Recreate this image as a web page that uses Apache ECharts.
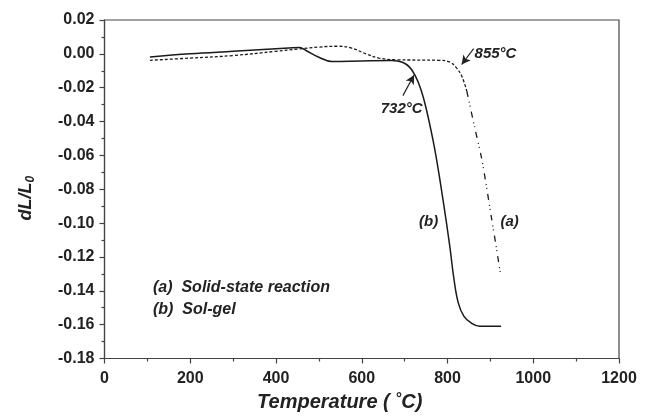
<!DOCTYPE html>
<html>
<head>
<meta charset="utf-8">
<script src="https://cdn.jsdelivr.net/npm/echarts@6/dist/echarts.min.js"></script>
<style>
  html, body { margin: 0; padding: 0; background: #fff; }
  #chart { width: 653px; height: 420px; }
</style>
</head>
<body>
<div id="chart"></div>
<script>
// x ticks / y ticks
var xTicks = [0, 200, 400, 600, 800, 1000, 1200];
var yTicks = [-0.18, 0.02, 0.02]; // min, max, interval

// (b) Sol-gel, solid line
var solGel = [
    [106, -0.0019], [200, 0.0], [300, 0.0015], [400, 0.003], [455, 0.0038],
    [470, 0.002], [500, -0.002], [530, -0.0045], [600, -0.0042], [670, -0.004],
    [695, -0.005], [712, -0.008], [725, -0.013], [738, -0.021], [750, -0.032],
    [770, -0.056], [790, -0.087], [805, -0.113], [815, -0.133], [825, -0.147],
    [838, -0.155], [855, -0.159], [875, -0.161], [925, -0.161]
];

// (a) Solid-state reaction, dashed line (upper part)
var solidStateTop = [
    [106, -0.0038], [200, -0.0025], [300, -0.001], [400, 0.0015], [450, 0.0028],
    [500, 0.004], [545, 0.0045], [575, 0.0035], [610, 0.0], [640, -0.0025],
    [680, -0.0035], [780, -0.0038], [805, -0.0048], [820, -0.008], [833, -0.013],
    [845, -0.022]
];
// (a) steep part, dash-dot
var solidStateLow = [
    [845, -0.022], [863, -0.043], [879, -0.061], [890, -0.077], [902, -0.096],
    [913, -0.113], [924, -0.131]
];

// annotation texts and arrows, in data coordinates
var notes = [
    { name: '732°C', coord: [693, -0.0323] },
    { name: '855°C', coord: [912, 0.0002] },
    { name: '(b)', coord: [756, -0.0995] },
    { name: '(a)', coord: [945, -0.099] }
];
var arrows = [
    [[696, -0.0247], [722, -0.0125]],
    [[861, 0.0031], [833, -0.0063]]
];
var legendLines = ['(a)  Solid-state reaction', '(b)  Sol-gel'];

var FONT = '"Liberation Sans", Arial, sans-serif';
var INK = '#222';

var chart = echarts.init(document.getElementById('chart'));

var option = {
    backgroundColor: '#fff',
    animation: false,
    grid: {
        left: 104.5, right: 34, top: 20, bottom: 61.5,
        show: true, borderColor: '#444', borderWidth: 1.2
    },
    xAxis: {
        type: 'value',
        min: xTicks[0], max: xTicks[xTicks.length - 1], interval: 200,
        name: '{t|Temperature ( }{s|°}{t|C)}',
        nameLocation: 'middle', nameGap: 29,
        nameTextStyle: {
            padding: [0, 44, 0, 0],
            rich: {
                t: { fontFamily: FONT, fontSize: 20, fontWeight: 'bold', fontStyle: 'italic', color: INK },
                s: { fontFamily: FONT, fontSize: 15, fontWeight: 'bold', fontStyle: 'italic', color: INK, padding: [0, 0, 7, 0] }
            }
        },
        axisLine: { onZero: false, lineStyle: { color: '#444', width: 1.2 } },
        axisTick: { length: 5, lineStyle: { color: '#444', width: 1.2 } },
        minorTick: { show: true, splitNumber: 2, length: 3, lineStyle: { color: '#444', width: 1.2 } },
        splitLine: { show: false },
        axisLabel: {
            fontFamily: FONT, fontSize: 16, fontWeight: 'bold', color: INK, margin: 12,
            formatter: function (v) { return String(v); }
        }
    },
    yAxis: {
        type: 'value',
        min: yTicks[0], max: yTicks[1], interval: yTicks[2],
        name: '{t|dL/L}{sub|0}',
        nameLocation: 'middle', nameGap: 68, nameRotate: 90,
        nameTextStyle: {
            padding: [0, 18, 0, 0],
            rich: {
                t: { fontFamily: FONT, fontSize: 18, fontWeight: 'bold', fontStyle: 'italic', color: INK },
                sub: { fontFamily: FONT, fontSize: 12, fontWeight: 'bold', fontStyle: 'italic', color: INK, padding: [8, 0, 0, 0] }
            }
        },
        axisLine: { show: true, onZero: false, lineStyle: { color: '#444', width: 1.2 } },
        axisTick: { show: true, length: 5, lineStyle: { color: '#444', width: 1.2 } },
        minorTick: { show: true, splitNumber: 2, length: 3, lineStyle: { color: '#444', width: 1.2 } },
        splitLine: { show: false },
        axisLabel: {
            fontFamily: FONT, fontSize: 16, fontWeight: 'bold', color: INK, margin: 10,
            formatter: function (v) { return v.toFixed(2); }
        }
    },
    graphic: [{
        type: 'text', left: 153, top: 277, silent: true,
        style: {
            text: legendLines.join('\n'),
            font: 'italic bold 16px ' + FONT,
            lineHeight: 22, fill: INK
        }
    }],
    series: [
        {
            name: 'Sol-gel', type: 'line', data: solGel,
            showSymbol: false, smooth: 0.4, silent: true,
            lineStyle: { color: '#1a1a1a', width: 1.5 },
            markPoint: {
                symbol: 'rect', symbolSize: 1, silent: true,
                itemStyle: { color: 'rgba(0,0,0,0)' },
                label: {
                    show: true, position: 'inside', formatter: '{b}',
                    fontFamily: FONT, fontSize: 15, fontWeight: 'bold', fontStyle: 'italic', color: INK
                },
                data: notes.map(function (n) { return { name: n.name, coord: n.coord }; })
            },
            markLine: {
                silent: true,
                label: { show: false },
                lineStyle: { color: INK, type: 'solid', width: 1.2 },
                data: arrows.map(function (a) {
                    return [
                        { coord: a[0], symbol: 'none' },
                        { coord: a[1], symbol: 'arrow', symbolSize: [7, 9] }
                    ];
                })
            }
        },
        {
            name: 'Solid-state reaction', type: 'line', data: solidStateTop,
            showSymbol: false, smooth: 0.4, silent: true,
            lineStyle: { color: '#1a1a1a', width: 1.3, type: [3, 2] }
        },
        {
            name: 'Solid-state reaction (steep)', type: 'line', data: solidStateLow,
            showSymbol: false, smooth: 0.3, silent: true,
            lineStyle: { color: '#1a1a1a', width: 1.3, type: [6, 5, 1, 3, 1, 5] }
        }
    ]
};

chart.setOption(option);
</script>
</body>
</html>
